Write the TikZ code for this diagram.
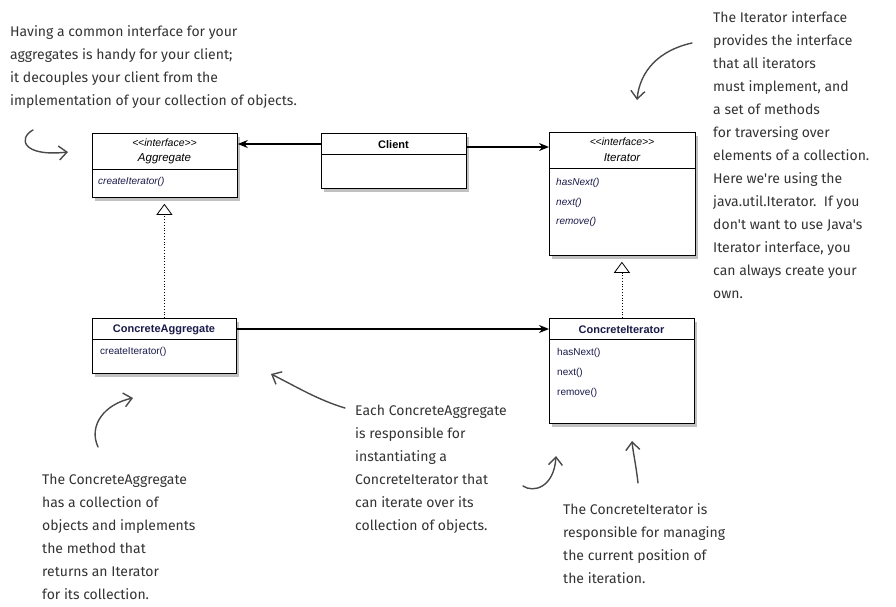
\documentclass[tikz,border=0pt]{standalone}
\usepackage{fontspec}
\setmainfont{Liberation Sans}
\newfontfamily\handfont{Fira Sans}
\usetikzlibrary{arrows.meta,shadows,calc}
\definecolor{umlblue}{HTML}{1A1A4A}
\definecolor{hand}{HTML}{333333}
\definecolor{handarrow}{HTML}{4A4A4A}
\begin{document}
\begin{tikzpicture}[x=1pt,y=-1pt,
 box/.style={draw=black, line width=0.8pt, fill=white, anchor=north west, inner sep=0pt,
   drop shadow={shadow xshift=3pt, shadow yshift=-4pt, opacity=0.35, fill=black!70}},
 stereo/.style={font=\fontsize{10.5}{12}\selectfont\itshape, text=black, inner sep=0pt},
 ititle/.style={font=\fontsize{11.5}{13}\selectfont\itshape, text=black, inner sep=0pt},
 btitle/.style={font=\fontsize{11}{13}\selectfont\bfseries, text=umlblue, inner sep=0pt},
 meth/.style={font=\fontsize{10}{12}\selectfont, text=umlblue, anchor=west, inner sep=0pt},
 imeth/.style={meth, font=\fontsize{10}{12}\selectfont\itshape},
 divider/.style={line width=0.8pt},
 note/.style={font=\handfont\fontsize{14}{23}\selectfont, text=hand, align=left, anchor=north west, inner sep=0pt},
 hand arrow/.style={draw=handarrow, line width=1.4pt, line cap=round, -{Straight Barb[length=8pt,width=14pt]}},
 assoc/.style={-{Stealth[length=10pt,width=8pt]}},
 realize/.style={dotted, line width=0.8pt, -{Triangle[open,length=11pt,width=16pt,line width=0.8pt]}, shorten >=6pt},
]
\useasboundingbox (0,0) rectangle (896,607);

% ---------- classes ----------
\node[box, minimum width=145pt, minimum height=64pt] (agg) at (92,133) {};
\draw[divider] ($(agg.north west)+(0,36)$) -- ($(agg.north east)+(0,36)$);
\node[stereo] (aggst) at (164.5,143) {<\kern-0.2pt<interface>\kern-0.2pt>};
\node[ititle] (aggt) at (164.5,159) {Aggregate};
\node[imeth] (aggm) at (98,182) {createIterator()};

\node[box, minimum width=145pt, minimum height=55pt] (client) at (321,133) {};
\draw[divider] ($(client.north west)+(0,21)$) -- ($(client.north east)+(0,21)$);
\node[btitle, text=black] (clientt) at (393.5,145) {Client};

\node[box, minimum width=146pt, minimum height=123pt] (iter) at (549,132) {};
\draw[divider] ($(iter.north west)+(0,36)$) -- ($(iter.north east)+(0,36)$);
\node[stereo] (iterst) at (622,142) {<\kern-0.2pt<interface>\kern-0.2pt>};
\node[ititle] (itert) at (622,158) {Iterator};
\node[imeth] (iterm1) at (556,183) {hasNext()};
\node[imeth] (iterm2) at (556,203) {next()};
\node[imeth] (iterm3) at (556,222) {remove()};

\node[box, minimum width=144pt, minimum height=55pt] (cagg) at (92,318) {};
\draw[divider] ($(cagg.north west)+(0,21)$) -- ($(cagg.north east)+(0,21)$);
\node[btitle] (caggt) at (164,330) {ConcreteAggregate};
\node[meth] (caggm) at (100,352) {createIterator()};

\node[box, minimum width=145pt, minimum height=105pt] (cit) at (549,318) {};
\draw[divider] ($(cit.north west)+(0,21)$) -- ($(cit.north east)+(0,21)$);
\node[btitle] (citt) at (621.5,330) {ConcreteIterator};
\node[meth] (citm1) at (557,353) {hasNext()};
\node[meth] (citm2) at (557,373) {next()};
\node[meth] (citm3) at (557,393) {remove()};

% ---------- relations ----------
\draw[assoc, line width=1.3pt] (client.west |- 0,144) -- (agg.east |- 0,144);
\draw[assoc, line width=2.2pt] (client.east |- 0,147) -- (iter.west |- 0,147);
\draw[assoc, line width=2.2pt] (cagg.east |- 0,329) -- (cit.west |- 0,329);
\draw[realize] (cagg.north) -- (cagg.north |- agg.south);
\draw[realize] (cit.north) -- (cit.north |- iter.south);

% ---------- notes ----------
\node[note] (n1) at (10,25) {Having a common interface for your\\aggregates is handy for your client;\\it decouples your client from the\\implementation of your collection of objects.};
\node[note] (n2) at (713,11) {The Iterator interface\\provides the interface\\that all iterators\\must implement, and\\a set of methods\\for traversing over\\elements of a collection.\\Here we're using the\\java.util.Iterator.\ \ If you\\don't want to use Java's\\Iterator interface, you\\can always create your\\own.};
\node[note] (n3) at (355,405) {Each ConcreteAggregate\\is responsible for\\instantiating a\\ConcreteIterator that\\can iterate over its\\collection of objects.};
\node[note] (n4) at (42,474) {The ConcreteAggregate\\has a collection of\\objects and implements\\the method that\\returns an Iterator\\for its collection.};
\node[note] (n5) at (563,503) {The ConcreteIterator is\\responsible for managing\\the current position of\\the iteration.};

% ---------- hand-drawn arrows ----------
\coordinate (a1s) at (33,130); \coordinate (a1e) at (68,152);
\draw[hand arrow] (a1s) .. controls (18,138) and (22,157) .. (a1e);
\coordinate (a2s) at (692,43); \coordinate (a2e) at (637,100);
\draw[hand arrow] (a2s) .. controls (660,50) and (640,70) .. (a2e);
\coordinate (a3s) at (345,408); \coordinate (a3e) at (271,374);
\draw[hand arrow] (a3s) .. controls (318,400) and (295,386) .. (a3e);
\coordinate (a4s) at (523,486); \coordinate (a4e) at (556,456);
\draw[hand arrow] (a4s) .. controls (533,493) and (554,488) .. (a4e);
\coordinate (a5s) at (638,483); \coordinate (a5e) at (632,441);
\draw[hand arrow] (a5s) .. controls (636,465) and (633,452) .. (a5e);
\coordinate (a6s) at (98,447); \coordinate (a6e) at (133,398);
\draw[hand arrow] (a6s) .. controls (88,425) and (105,404) .. (a6e);
\end{tikzpicture}
\end{document}
